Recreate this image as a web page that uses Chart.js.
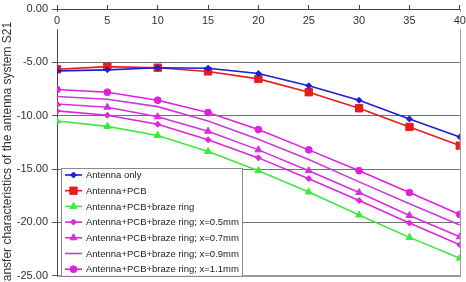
<!DOCTYPE html>
<html>
<head>
<meta charset="utf-8">
<script src="https://cdn.jsdelivr.net/npm/chart.js@4.4.1/dist/chart.umd.min.js"></script>
<style>
  body { margin: 0; background: #fff; }
  canvas { display: block; }
</style>
</head>
<body>
<canvas id="s21Chart" width="466" height="282"></canvas>
<script>
// distance values on the top axis
const distances = [0, 5, 10, 15, 20, 25, 30, 35, 40];

// S21 values
const antennaOnly = [-5.8, -5.7, -5.5, -5.55, -6.05, -7.2, -8.55, -10.3, -12.0];
const antennaPcb  = [-5.65, -5.4, -5.5, -5.85, -6.55, -7.8, -9.3, -11.05, -12.8];
const brazeRing   = [-10.5, -11.0, -11.85, -13.35, -15.15, -17.15, -19.3, -21.4, -23.35];
const ringX05     = [-9.55, -9.95, -10.8, -12.25, -13.95, -15.9, -17.95, -20.05, -22.1];
const ringX07     = [-8.9, -9.2, -10.1, -11.45, -13.2, -15.15, -17.2, -19.35, -21.35];
const ringX09     = [-8.2, -8.45, -9.15, -10.5, -12.2, -14.1, -16.2, -18.25, -20.25];
const ringX11     = [-7.55, -7.8, -8.55, -9.7, -11.3, -13.2, -15.15, -17.2, -19.25];

const seriesNames = [
  'Antenna only',
  'Antenna+PCB',
  'Antenna+PCB+braze ring',
  'Antenna+PCB+braze ring; x=0.5mm',
  'Antenna+PCB+braze ring; x=0.7mm',
  'Antenna+PCB+braze ring; x=0.9mm',
  'Antenna+PCB+braze ring; x=1.1mm'
];
const yTicks = [0, -5, -10, -15, -20, -25];
const yTitle = 'Transfer characteristics of the antenna system S21';

const FONT = "'Liberation Sans', Arial, Helvetica, sans-serif";

function toPoints(vals) {
  return vals.map((v, i) => ({ x: distances[i], y: v }));
}

function makeSeries(label, vals, color, style, radius) {
  return {
    label: label,
    data: toPoints(vals),
    borderColor: color,
    backgroundColor: color,
    borderWidth: 1.6,
    pointStyle: style || 'circle',
    pointRadius: style ? radius : 0,
    pointBorderWidth: 1,
    pointBackgroundColor: color,
    pointBorderColor: color,
    tension: 0
  };
}

const datasets = [
  makeSeries(seriesNames[0], antennaOnly, '#1e1ed2', 'rectRot', 3),
  makeSeries(seriesNames[1], antennaPcb, '#e81c1c', 'rect', 5.2),
  makeSeries(seriesNames[2], brazeRing, '#3ee83e', 'triangle', 4),
  makeSeries(seriesNames[3], ringX05, '#dc28dc', 'rectRot', 3),
  makeSeries(seriesNames[4], ringX07, '#d82ee0', 'triangle', 4),
  makeSeries(seriesNames[5], ringX09, '#c83cd8', null, 0),
  makeSeries(seriesNames[6], ringX11, '#e020e0', 'circle', 3.4)
];

// plot frame (right + bottom edges)
const framePlugin = {
  id: 'frame',
  beforeDraw(chart) {
    const { ctx, chartArea: a } = chart;
    ctx.save();
    ctx.strokeStyle = '#9a9a9a';
    ctx.lineWidth = 1;
    ctx.strokeRect(Math.round(a.left) + 0.5, Math.round(a.top) + 0.5,
      Math.round(a.right - a.left), Math.round(a.bottom - a.top));
    ctx.restore();
  }
};

// rotated y axis title, shifted down like the original
const yTitlePlugin = {
  id: 'yTitle',
  afterDraw(chart) {
    const ctx = chart.ctx;
    ctx.save();
    ctx.translate(8, 157);
    ctx.rotate(-Math.PI / 2);
    ctx.font = '12px ' + FONT;
    ctx.fillStyle = '#333';
    ctx.textAlign = 'center';
    ctx.textBaseline = 'middle';
    ctx.fillText(yTitle, 0, 0);
    ctx.restore();
  }
};

function drawMarker(ctx, ds, x, y) {
  if (!ds.pointRadius) return;
  if (Chart.helpers && Chart.helpers.drawPoint) {
    Chart.helpers.drawPoint(ctx, {
      pointStyle: ds.pointStyle, radius: ds.pointRadius, rotation: 0, borderWidth: 1
    }, x, y);
  } else {
    ctx.beginPath();
    ctx.arc(x, y, ds.pointRadius, 0, Math.PI * 2);
    ctx.fill();
  }
}

// boxed legend sitting inside the plot, lower left
const legendPlugin = {
  id: 'boxLegend',
  afterDatasetsDraw(chart) {
    const { ctx, chartArea: a } = chart;
    const left = a.left + 4, top = 168, right = 242, bottom = a.bottom;
    ctx.save();
    ctx.fillStyle = '#fff';
    ctx.fillRect(left, top, right - left, bottom - top);
    ctx.strokeStyle = '#8a8a8a';
    ctx.lineWidth = 1;
    ctx.strokeRect(Math.round(left) + 0.5, top + 0.5, Math.round(right - left), Math.round(bottom - top));
    chart.data.datasets.forEach((ds, i) => {
      const y = 175 + i * 15.7;
      ctx.strokeStyle = ds.borderColor;
      ctx.fillStyle = ds.borderColor;
      ctx.lineWidth = ds.borderWidth;
      ctx.beginPath();
      ctx.moveTo(65, y);
      ctx.lineTo(82, y);
      ctx.stroke();
      ctx.lineWidth = 1;
      drawMarker(ctx, ds, 73.5, y);
      ctx.fillStyle = '#222';
      ctx.font = '9.5px ' + FONT;
      ctx.textAlign = 'left';
      ctx.textBaseline = 'middle';
      ctx.fillText(ds.label, 86, y + 0.5);
    });
    ctx.restore();
  }
};

new Chart(document.getElementById('s21Chart'), {
  type: 'line',
  data: { datasets: datasets },
  options: {
    responsive: false,
    animation: false,
    layout: { padding: { left: 0, top: 0, right: 6, bottom: 5 } },
    plugins: {
      legend: { display: false },
      tooltip: { enabled: false }
    },
    scales: {
      x: {
        type: 'linear',
        position: 'top',
        min: 0,
        max: 40,
        ticks: {
          stepSize: 5,
          mirror: true,
          padding: 5,
          color: '#333',
          font: { size: 11, family: FONT },
          showLabelBackdrop: true,
          backdropColor: '#fff',
          backdropPadding: 2,
          z: 1
        },
        grid: { drawOnChartArea: false, drawTicks: true, tickLength: 4, tickColor: '#444' },
        border: { color: '#444', width: 1 },
        afterFit: s => { s.height = 9; s.paddingLeft = 0; s.paddingRight = 0; }
      },
      y: {
        type: 'linear',
        min: yTicks[yTicks.length - 1],
        max: yTicks[0],
        afterBuildTicks: s => { s.ticks = yTicks.map(v => ({ value: v })); },
        ticks: {
          callback: v => v.toFixed(2),
          color: '#333',
          padding: 4,
          font: { size: 11, family: FONT }
        },
        grid: {
          color: c => (c.tick && c.tick.value === -25) ? '#9a9a9a' : '#707070',
          tickLength: 5,
          tickColor: '#555'
        },
        border: { color: '#444', width: 1 },
        afterFit: s => { s.width = 57; s.paddingTop = 0; s.paddingBottom = 0; }
      }
    }
  },
  plugins: [framePlugin, legendPlugin, yTitlePlugin]
});
</script>
</body>
</html>
